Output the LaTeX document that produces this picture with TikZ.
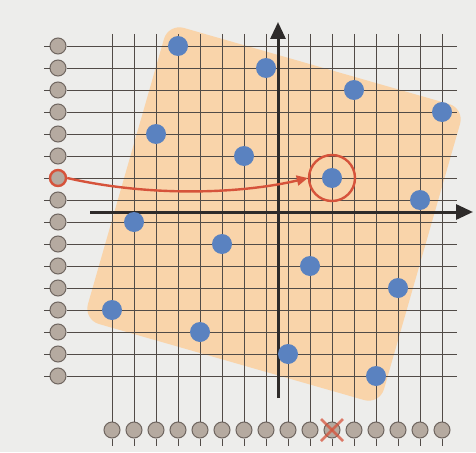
\documentclass[tikz,border=0pt]{standalone}
\usetikzlibrary{arrows.meta}
\definecolor{uPaper}{HTML}{EDEDEB}
\definecolor{uSquare}{HTML}{F9D4AA}
\definecolor{uWire}{HTML}{514B47}
\definecolor{uPin}{HTML}{B5AAA0}
\definecolor{uPinEdge}{HTML}{6F6660}
\definecolor{uDot}{HTML}{5A82C0}
\definecolor{uHit}{HTML}{D6533B}
\definecolor{uAxis}{HTML}{2E2B2A}
\tikzset{
  port/.style={circle, draw=uPinEdge, fill=uPin, line width=1pt,
               minimum size=16pt, inner sep=0pt},
  dot/.style={circle, fill=uDot, minimum size=20pt, inner sep=0pt},
  wire/.style={draw=uWire, line width=0.9pt},
  axisline/.style={draw=uAxis, line width=3pt,
                   -{Triangle[length=17pt,width=15pt]}},
  hit/.style={draw=uHit, line width=2.4pt},
  ring/.style={circle, hit, minimum size=46pt, inner sep=0pt},
  sweep/.style={hit, -{Triangle[length=11pt,width=10pt]}},
  xmark/.style={draw=uHit, line width=2.5pt, opacity=.75},
}

\begin{document}
\begin{tikzpicture}[x=1pt, y=-1pt]

\def\P{22}   % pitch of the wires

\fill[uPaper] (0,0) rectangle (476,452);
\useasboundingbox (0,0) rectangle (476,452);

%% ── the tilted square behind the grid ────────────────────────────────────
\begin{scope}[shift={(274,214)}, rotate=-16]
  \fill[uSquare, rounded corners=16pt] (-154,-154) rectangle (154,154);
\end{scope}

%% ── pins on the left and along the bottom, with their wires ──────────────
\foreach \i in {0,...,15} {
  \node[port] (r\i) at (58, 46+\i*\P) {};
  \node[port] (c\i) at (112+\i*\P, 430) {};
  \coordinate (rl\i) at (44, 46+\i*\P);
  \coordinate (re\i) at (457, 46+\i*\P);
  \coordinate (ct\i) at (112+\i*\P, 34);
  \coordinate (cb\i) at (112+\i*\P, 446);
  \draw[wire] (rl\i) -- (r\i.west);
  \draw[wire] (r\i.east) -- (re\i);
  \draw[wire] (ct\i) -- (c\i.north);
  \draw[wire] (c\i.south) -- (cb\i);
}

%% ── axes ─────────────────────────────────────────────────────────────────
\coordinate (xo) at (90,212);
\coordinate (xe) at (473,212);
\coordinate (yo) at (278,398);
\coordinate (ye) at (278,22);
\draw[axisline] (xo) -- (xe);
\draw[axisline] (yo) -- (ye);

%% ── lattice points: one per row ──────────────────────────────────────────
\foreach \i in {0,...,15} {
  \pgfmathtruncatemacro\j{mod(4*\i+3,17)}
  \node[dot] (d\i) at (112+\j*\P, 46+\i*\P) {};
}

%% ── the picked row and its point ─────────────────────────────────────────
\node[port, draw=uHit, line width=2.4pt] (src) at (r6) {};
\node[ring] (aim) at (d6) {};
\draw[sweep] (src.east) .. controls (150,197) and (240,194) .. (aim.west);

%% ── the struck column ────────────────────────────────────────────────────
\draw[xmark] ([shift={(-11,-11)}]c10.center) -- ([shift={(11,11)}]c10.center);
\draw[xmark] ([shift={(-11,11)}]c10.center) -- ([shift={(11,-11)}]c10.center);

\end{tikzpicture}
\end{document}
